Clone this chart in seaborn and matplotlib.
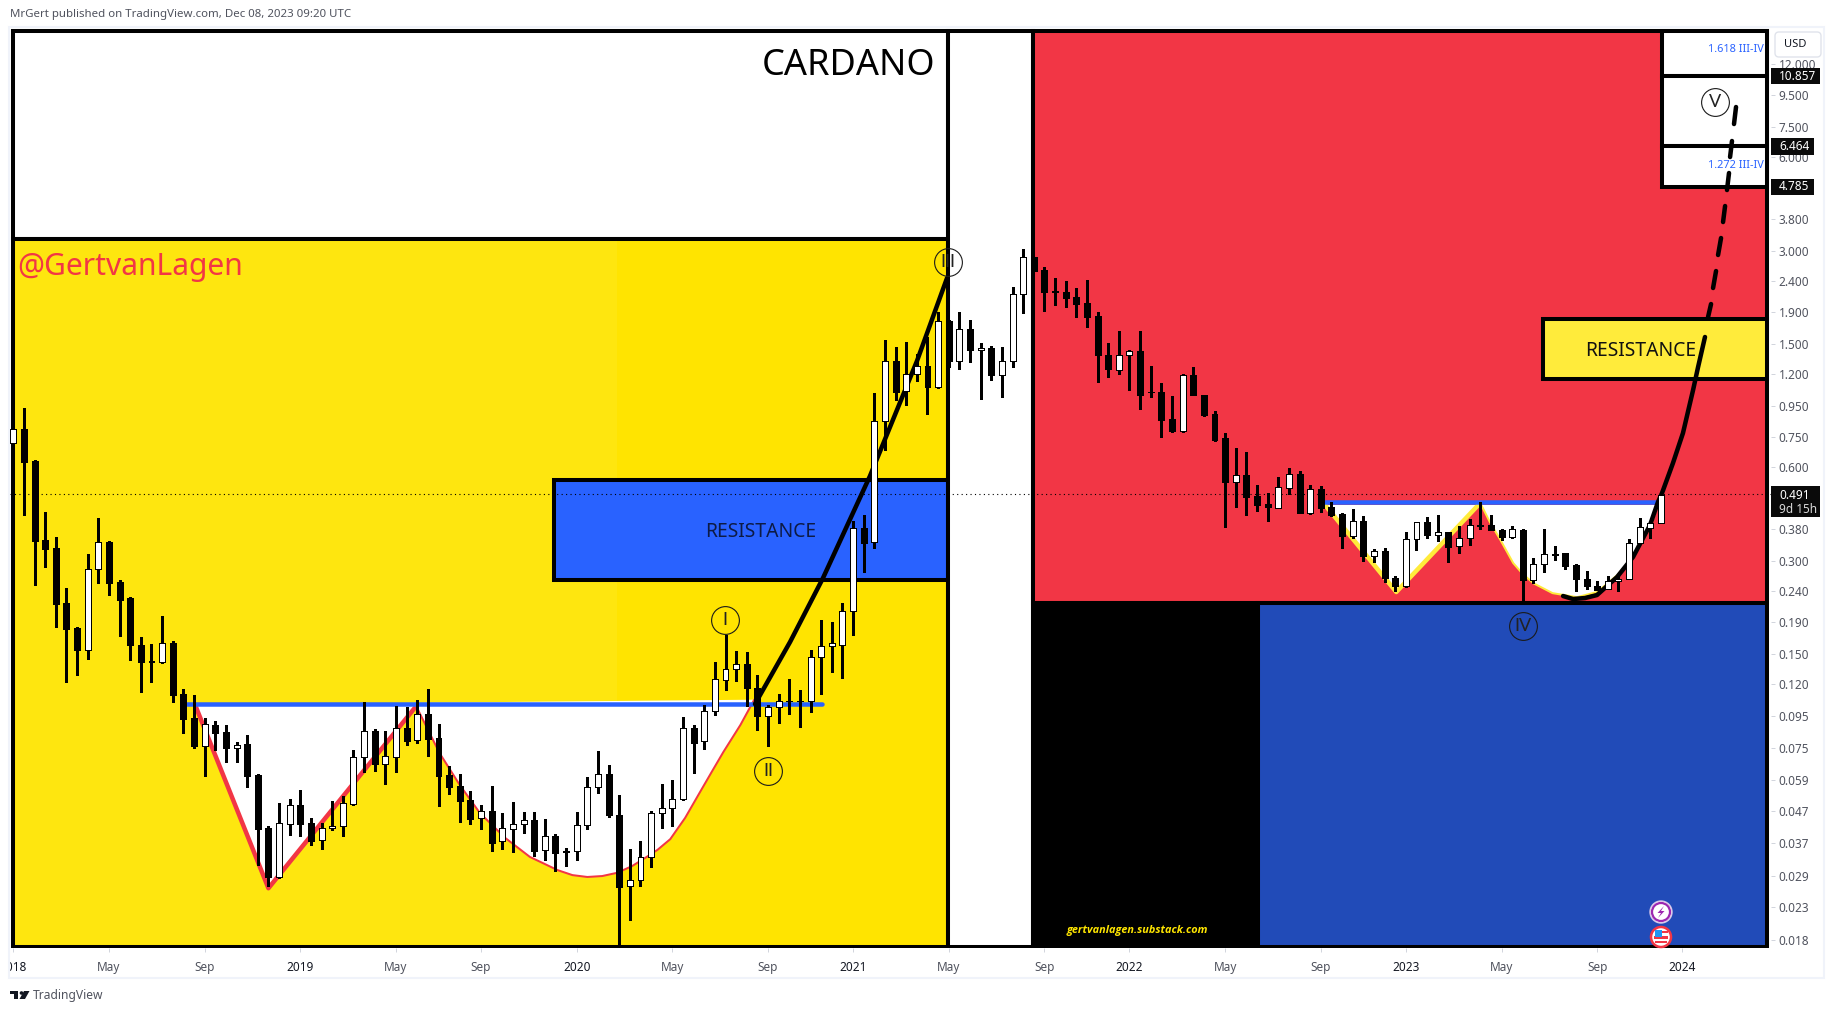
import numpy as np
import matplotlib
matplotlib.use("Agg")
import matplotlib.pyplot as plt
import seaborn as sns
from matplotlib.patches import Rectangle, Circle, Polygon, FancyBboxPatch
from matplotlib.transforms import IdentityTransform

W, H = 1835, 1013

# two-week candles of ADA/USD, in thousandths of a dollar
opens_milli = [721,796,629,350,330,219,182,155,282,345,256,228,161,143,142,163,112,93.4,76.1,88.7,84.2,74.9,77,61.2,41.3,28.6,42.6,49,42.8,37.7,41.2,41.8,49.5,69.7,84.8,66.5,70.1,86.5,79.1,96.2,80.5,61.2,56.4,50.8,44.4,46.8,37.4,41.1,42.4,43.8,35,38.9,34.7,34.7,42.1,55.8,61.6,45.5,26.8,28,33.4,46,47.9,51.2,86.7,78.7,98.4,124,134,139,117,95.1,101,106,106,106,147,159,161,206,382,346,844,1320,1060,1200,1270,1090,1780,1320,1680,1430,1460,1190,1320,2180,2860,2600,2220,2210,2130,2030,1850,1380,1240,1380,1420,1050,1050,859,788,1190,1030,892,746,540,567,485,457,445,516,571,429,511,447,424,362,402,312,322,265,249,352,399,364,371,336,356,391,390,376,358,376,261,292,315,317,290,263,249,243,258,263,342,384,396]
highs_milli = [796,930,634,430,357,246,183,316,411,347,261,230,171,162,199,165,116,111,93.4,91.1,88.5,78,82.1,61.6,41.9,49.6,51.2,54.7,44.4,42.7,50.4,52.3,73.7,105,86.1,84.8,102,101,107,116,89.1,65.4,61.5,54.3,49,56.4,46,49.9,46.4,46.4,44,39.5,35.5,46.4,60.1,72.9,65.7,52.6,35.2,37.4,46.7,57.1,58.9,94.1,88.7,103,142,173,154,153,129,103,112,125,115,155,194,191,219,403,421,1040,1550,1470,1520,1390,1580,1900,1790,1900,1790,1510,1480,1470,2290,3040,2860,2650,2450,2390,2270,2410,1900,1510,1650,1430,1650,1270,1120,1020,1200,1260,1030,910,775,693,673,527,496,559,597,584,527,523,465,427,440,418,327,329,269,371,399,415,421,371,388,409,464,421,380,388,379,306,380,335,319,293,279,258,269,267,352,411,402,490]
lows_milli = [721,421,251,287,184,122,129,145,255,232,172,144,113,122,140,105,83.8,74.9,60.9,73.8,67.5,67.5,56.1,31.4,26.8,28.4,39.2,38.9,36.4,35.3,40.7,39,49,62.7,63.2,57.2,62.7,76.4,77.8,70.4,48.7,53.1,43.3,42.6,41.1,34.9,35.3,34.6,39.9,33.6,32.6,30.1,31.1,32.6,41.1,53.7,44.9,17.1,20.9,26.8,31,41.4,41.9,50.8,62.1,74.2,95.5,115,123,102,85.4,75.6,89.7,96.3,87.4,97.6,112,131,126,173,276,330,684,989,954,1140,895,1080,1260,1250,1310,999,1150,1010,1260,1890,2580,1910,2000,1980,1830,1700,1130,1170,1200,1070,926,1010,752,780,780,1030,879,730,386,447,421,434,403,445,493,428,425,431,419,331,355,300,298,257,239,247,325,356,347,298,319,337,380,377,350,356,221,255,276,302,283,240,243,242,243,240,263,340,355,396]
closes_milli = [796,626,348,328,218,181,155,282,344,255,225,160,142,142,163,111,92.9,76.1,89.1,83.8,74.9,76.2,60.9,41.1,28.6,42.7,48.8,42.6,37.6,41.2,41.8,49.6,69.7,84.6,66.5,70.3,86.5,78.9,96,80.1,60.9,56.1,50.6,44.2,46.7,37,41.2,42.4,43.7,34.9,38.8,34.4,34.5,42.1,55.8,61.5,45.6,26.7,28,33.4,46,47.8,51.2,86.7,77.6,98.4,125,134,139,117,95.1,101,106,106,106,147,159,163,206,382,343,844,1320,1050,1200,1270,1090,1780,1320,1680,1430,1460,1190,1320,2180,2860,2580,2210,2200,2110,2020,1830,1380,1250,1380,1420,1030,1050,853,786,1190,1030,885,735,538,566,482,454,447,518,570,428,510,444,421,362,402,312,322,265,249,352,399,364,371,333,356,390,389,378,358,379,261,292,315,313,289,263,248,242,258,263,342,385,396,490]

last_price = 0.491

x_tick_bars = [0, 9, 18, 27, 36, 44, 53, 62, 71, 79, 88, 97, 105, 114, 123, 131, 140, 149, 157]
x_tick_labels = ["2018", "May", "Sep", "2019", "May", "Sep", "2020", "May", "Sep", "2021", "May", "Sep",
                 "2022", "May", "Sep", "2023", "May", "Sep", "2024"]
y_ticks = [12, 9.5, 7.5, 6, 3.8, 3, 2.4, 1.9, 1.5, 1.2, 0.95, 0.75, 0.6, 0.38, 0.3, 0.24, 0.19, 0.15, 0.12,
           0.095, 0.075, 0.059, 0.047, 0.037, 0.029, 0.023, 0.018]

# drawn pattern lines as bar number / price
left_v_bars = [17.1, 24.0, 37.9]
left_v_prices = [0.103, 0.0264, 0.102]
left_cup_bars = [37.9, 40.1, 42.0, 43.9, 46.3, 48.6, 50.0, 51.2, 52.6, 54.0, 55.4, 56.8, 58.2, 59.4, 60.6, 61.8, 63.2, 64.6, 65.7, 66.8, 68.4, 69.7]
left_cup_prices = [0.102, 0.072, 0.0568, 0.0461, 0.0383, 0.0333, 0.0316, 0.0302, 0.0291, 0.0287, 0.0289, 0.0296, 0.0311, 0.033, 0.0351, 0.038, 0.0445, 0.0539, 0.0626, 0.0726, 0.0887, 0.107]
right_v_bars = [123.4, 130.1, 138.0]
right_v_prices = [0.454, 0.238, 0.461]
right_cup_bars = [138.0, 138.9, 139.9, 141.1, 142.0, 143.0, 144.8, 147.1, 149.0, 150.9, 152.4, 154.0, 154.7]
right_cup_prices = [0.461, 0.4, 0.35, 0.295, 0.272, 0.254, 0.236, 0.229, 0.238, 0.27, 0.309, 0.386, 0.454]
neck_left_bars = [16.34, 76.08]
neck_left_price = 0.1036
neck_right_bars = [123.40, 154.72]
neck_right_price = 0.4642
wave_left_bars = [69.77, 73.07, 76.17, 80.59, 85.01, 87.84]
wave_left_prices = [0.1036, 0.1642, 0.264, 0.563, 1.322, 2.448]
wave_right_bars = [145.79, 146.73, 147.86, 148.98, 150.87, 152.37, 153.97, 154.72, 155.10, 156.13, 157.07, 158.02, 158.49, 159.14]
wave_right_prices = [0.231, 0.2259, 0.2276, 0.2327, 0.266, 0.3086, 0.3913, 0.4642, 0.4962, 0.62, 0.7746, 1.066, 1.264, 1.58]
dash_bars = [159.43, 159.71, 159.90, 160.18, 160.37, 160.65, 160.84, 161.03, 161.21, 161.40, 161.50, 161.68, 161.87, 162.06]
dash_prices = [1.833, 2.018, 2.273, 2.578, 2.904, 3.294, 3.709, 4.177, 4.704, 5.337, 6.01, 6.768, 7.678, 8.71]

wave_labels = ["I", "II", "III", "IV", "V"]
wave_label_bars = [66.95, 71.00, 87.93, 142.02, 160.08]
wave_label_prices = [0.1933, 0.06302, 2.757, 0.1849, 9.04]

# zones: bar from, bar to, price low, price high, fill, outlined
zones = [
    (-0.03, 87.93, 3.27, 15.37, "white", True),
    (-0.03, 56.79, 0.01707, 3.27, "#FEE60F", False),
    (56.79, 87.93, 0.01707, 3.27, "#FFE400", False),
    (-0.03, 87.93, 0.01707, 3.27, "none", True),
    (50.87, 87.93, 0.2601, 0.5465, "#2962FF", True),
    (87.93, 95.93, 0.01707, 15.37, "white", True),
    (95.93, 164.98, 0.2193, 15.37, "#F23645", True),
    (95.93, 117.09, 0.01707, 0.2193, "black", True),
    (117.09, 164.98, 0.01707, 0.2193, "#214BB8", True),
    (143.90, 164.98, 1.157, 1.806, "#FFEB3B", True),
    (155.10, 164.98, 10.96, 15.37, "white", True),
    (155.10, 164.98, 6.521, 10.96, "white", True),
    (155.10, 164.98, 4.81, 6.521, "white", True),
]

sns.set_theme(style="white")
plt.rcParams["font.family"] = ["Noto Sans", "DejaVu Sans"]

fig = plt.figure(figsize=(W / 100, H / 100), dpi=100, facecolor="white")
ax = fig.add_axes([10 / W, 1 - 948 / H, 1761 / W, 920 / H])
ax.set_yscale("log")

for x0, x1, p0, p1, fill, outlined in zones:
    ax.add_patch(Rectangle((x0, p0), x1 - x0, p1 - p0, fc=fill, ec="black" if outlined else "none",
                           lw=2.9 if outlined else 0, zorder=1))

ax.fill(left_v_bars + left_cup_bars, left_v_prices + left_cup_prices, color="white", lw=0, zorder=2)
ax.fill(right_v_bars + right_cup_bars, right_v_prices + right_cup_prices, color="white", lw=0, zorder=2)


def draw_line(x, y, color, px):
    sns.lineplot(x=x, y=y, ax=ax, color=color, lw=px * 0.72, estimator=None, sort=False, zorder=3)


draw_line(left_v_bars, left_v_prices, "#F23645", 4.5)
draw_line(left_cup_bars, left_cup_prices, "#F23645", 2)
draw_line(right_v_bars, right_v_prices, "#FFEB3B", 4.5)
draw_line(right_cup_bars, right_cup_prices, "#FFEB3B", 2)
draw_line(neck_left_bars, [neck_left_price] * 2, "#2962FF", 4.5)
draw_line(neck_right_bars, [neck_right_price] * 2, "#2962FF", 4.5)
draw_line(wave_left_bars, wave_left_prices, "black", 4.5)
draw_line(wave_right_bars, wave_right_prices, "black", 4.5)
for i in range(0, len(dash_bars), 2):
    draw_line(dash_bars[i:i + 2], dash_prices[i:i + 2], "black", 4.5)

ax.axhline(last_price, color="black", lw=0.8, ls=(0, (1, 3)), zorder=4)

# candles
o = np.array(opens_milli) / 1000
h = np.array(highs_milli) / 1000
l = np.array(lows_milli) / 1000
c = np.array(closes_milli) / 1000
idx = np.arange(len(o))
ax.vlines(idx, l, h, color="black", lw=0.8, zorder=5, antialiased=False)
ax.bar(idx, np.abs(c - o), bottom=np.minimum(o, c), width=0.56, color=np.where(c >= o, "white", "black"),
       edgecolor="black", lw=0.72, zorder=6, antialiased=False)

for label, bx, py in zip(wave_labels, wave_label_bars, wave_label_prices):
    ax.plot([bx], [py], "o", ms=20, mfc="none", mec="#1a1a1a", mew=0.8, zorder=7)
    ax.text(bx, py, label, ha="center", va="center", fontsize=13, color="#222222", family="Lato", zorder=7)

ax.set_xlim(-0.31, 165.35)
ax.set_ylim(0.01694, 15.66)
ax.set_xlabel("")
ax.set_ylabel("")
for s in ax.spines.values():
    s.set_visible(False)
ax.yaxis.tick_right()
ax.set_yticks(y_ticks)
ax.set_yticklabels(["%.3f" % v for v in y_ticks])
ax.minorticks_off()
ax.tick_params(axis="y", which="major", right=True, length=3, width=0.7, color="#D1D4DC", pad=2.5,
               labelsize=8.5, labelcolor="#50535E")
ax.set_xticks(x_tick_bars)
ax.set_xticklabels(x_tick_labels)
ax.tick_params(axis="x", bottom=True, length=3, width=0.7, color="#D1D4DC", pad=6.5, labelsize=8.5)
for t, s in zip(ax.get_xticklabels(), x_tick_labels):
    t.set_color("#131722" if s.isdigit() else "#50535E")


def px_text(x, y, s, **kw):
    kw.setdefault("va", "center")
    fig.text(x / W, 1 - y / H, s, **kw)


def px_patch(p):
    p.set_transform(IdentityTransform())
    fig.add_artist(p)


def px_rect(x0, y0, x1, y1, **kw):
    px_patch(Rectangle((x0, H - y1), x1 - x0, y1 - y0, **kw))


# text on the chart
px_text(10, 15, "MrGert published on TradingView.com, Dec 08, 2023 09:20 UTC", fontsize=8.25, color="#50535E")
px_text(935, 66, "CARDANO", ha="right", fontsize=26, color="black")
px_text(17, 267, "@GertvanLagen", fontsize=21.6, color="#F23645")
px_text(761, 532, "RESISTANCE", ha="center", fontsize=13.9, color="#0D1B45")
px_text(1641, 351, "RESISTANCE", ha="center", fontsize=13.9, color="#111111")
px_text(1764, 49, "1.618 III-IV", ha="right", fontsize=7.9, color="#2962FF", fontweight="bold")
px_text(1764, 166, "1.272 III-IV", ha="right", fontsize=7.9, color="#2962FF", fontweight="bold")
px_text(1067, 931, "gertvanlagen.substack.com", fontsize=7.8, color="#FFE600", fontweight="bold", style="italic",
        family="Open Sans")
px_text(33, 995, "TradingView", fontsize=8.7, color="#50535E")

# covers and frame of the widget
px_rect(0, 950, 10, 977, fc="white", ec="none", zorder=2)
px_rect(1772, 29, 1823, 60, fc="white", ec="none", zorder=2)
px_rect(9, 27, 1824, 978, fc="none", ec="#F0F3FA", lw=1.5, zorder=2)
px_patch(FancyBboxPatch((1775, H - 57), 46, 25, boxstyle="round,pad=0,rounding_size=4", fc="white", ec="#E0E3EB", lw=1, zorder=3))
px_text(1795, 44.5, "USD", ha="center", fontsize=8, color="#131722", zorder=4)

# price badges
for y0, y1, x1, s in [(68, 84, 1820, "10.857"), (138, 155, 1814, "6.464"), (179, 195, 1814, "4.785")]:
    px_rect(1771, y0, x1, y1, fc="#0A0A0A", ec="none", zorder=3)
    px_text(1779, (y0 + y1) / 2, s, fontsize=8.5, color="white", fontweight="bold", zorder=4)
px_rect(1771, 486, 1820, 517, fc="#0A0A0A", ec="none", zorder=3)
px_text(1779, 495, "0.491", fontsize=8.5, color="white", fontweight="bold", zorder=4)
px_text(1779, 509, "9d 15h", fontsize=8.5, color="#D8D8D8", zorder=4)

# event icons
px_patch(Circle((1661, H - 912), 11, fc="white", ec="#D9C8EA", lw=1, zorder=3))
px_patch(Circle((1661, H - 912), 9, fc="white", ec="#9C27B0", lw=1.6, zorder=3))
bolt = np.array([(3, -6), (-3.5, 1), (0, 1), (-3, 6), (3.5, -1), (0, -1)], float)
px_patch(Polygon(np.c_[1661 + bolt[:, 0], H - 912 - bolt[:, 1]], fc="#9C27B0", ec="none", zorder=4))
px_patch(Circle((1661, H - 937), 10, fc="white", ec="#F23645", lw=1.8, zorder=3))
px_rect(1654, 936, 1668, 938.5, fc="#F23645", ec="none", zorder=4)
px_rect(1655, 941, 1667, 943, fc="#F23645", ec="none", zorder=4)
px_rect(1655, 931, 1668, 933, fc="#F23645", ec="none", zorder=4)
px_rect(1655, 930, 1662, 937, fc="#2196F3", ec="none", zorder=5)

# TradingView mark
px_rect(10, 991, 18, 994, fc="#131722", ec="none")
px_rect(14, 994, 18, 999, fc="#131722", ec="none")
px_patch(Circle((21.5, H - 993), 1.8, fc="#131722", ec="none"))
px_patch(Polygon([(24, H - 991), (29.5, H - 991), (25, H - 999), (19.5, H - 999)], fc="#131722", ec="none"))

fig.savefig("out.png", dpi=100)
